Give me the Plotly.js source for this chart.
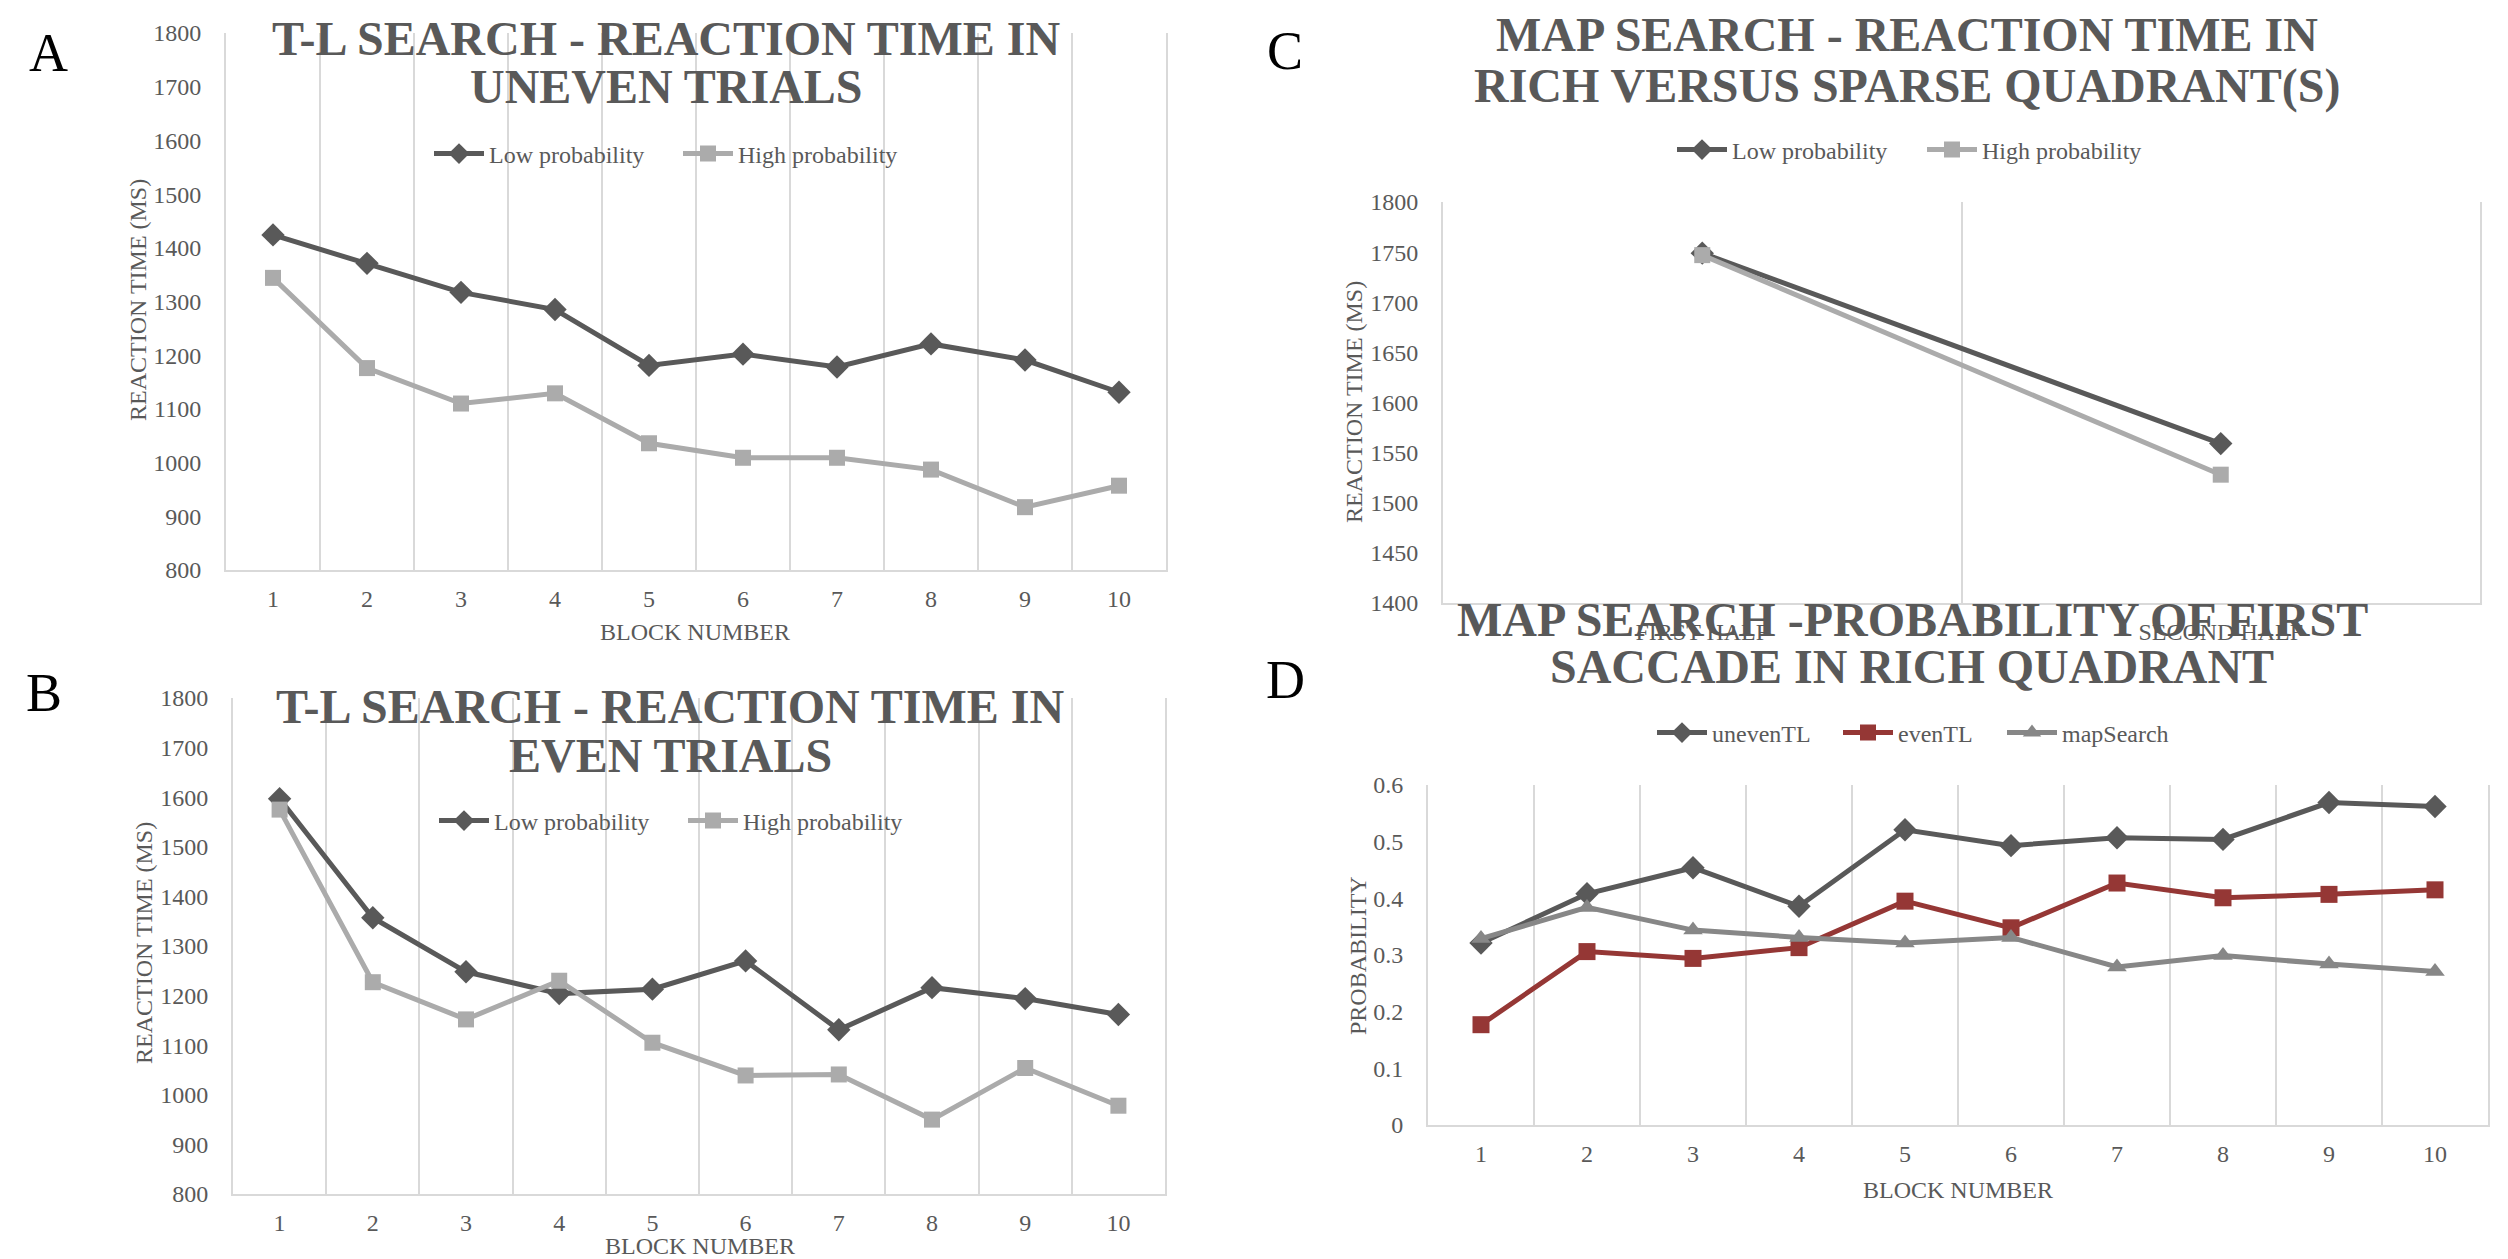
<!DOCTYPE html>
<html>
<head>
<meta charset="utf-8">
<script src="https://cdn.plot.ly/plotly-3.0.1.min.js"></script>
<style>
  html, body { margin: 0; padding: 0; background: #ffffff; }
  #chart { width: 2508px; height: 1259px; }
</style>
</head>
<body>
<div id="chart"></div>
<script>
// ---------------- DATA ----------------
const blocks = ['1', '2', '3', '4', '5', '6', '7', '8', '9', '10'];
const halves = ['FIRST HALF', 'SECOND HALF'];

const unevenLow  = [1424, 1371, 1317, 1285, 1181, 1202, 1178, 1221, 1191, 1131];
const unevenHigh = [1344, 1176, 1110, 1129, 1036, 1009, 1009, 987, 917, 957];

const evenLow  = [1597, 1357, 1248, 1204, 1213, 1270, 1131, 1216, 1194, 1162];
const evenHigh = [1575, 1227, 1152, 1230, 1105, 1039, 1041, 950, 1054, 978];

const mapLow  = [1749, 1559];
const mapHigh = [1747, 1528];

const probUnevenTL  = [0.321, 0.408, 0.454, 0.386, 0.521, 0.493, 0.507, 0.504, 0.569, 0.562];
const probEvenTL    = [0.177, 0.306, 0.294, 0.313, 0.395, 0.348, 0.427, 0.401, 0.407, 0.415];
const probMapSearch = [0.329, 0.384, 0.344, 0.331, 0.321, 0.331, 0.279, 0.299, 0.284, 0.271];

const seriesLow = 'Low probability';
const seriesHigh = 'High probability';
const seriesNames = ['unevenTL', 'evenTL', 'mapSearch'];

// ---------------- STYLE ----------------
const W = 2508, H = 1259;
const px = v => v / W;
const py = v => 1 - v / H;
const FONT = 'Liberation Serif, Times New Roman, serif';
const TXT = '#595959';
const GRID = '#D9D9D9';
const DARK = '#595959';
const LIGHT = '#ABABAB';
const RED = '#953735';
const MID = '#878787';

function line(x, y, name, color, symbol, size, xa, ya, leg) {
  return {
    type: 'scatter', mode: 'lines+markers', x: x, y: y, name: name,
    xaxis: xa, yaxis: ya, legend: leg, showlegend: true,
    line: { color: color, width: 5 },
    marker: { color: color, symbol: symbol, size: size, line: { width: 0 } },
    hoverinfo: 'skip'
  };
}

const traces = [
  line(blocks, unevenLow, seriesLow, DARK, 'diamond', 18, 'x', 'y', 'legend'),
  line(blocks, unevenHigh, seriesHigh, LIGHT, 'square', 16, 'x', 'y', 'legend2'),
  line(blocks, evenLow, seriesLow, DARK, 'diamond', 18, 'x2', 'y2', 'legend3'),
  line(blocks, evenHigh, seriesHigh, LIGHT, 'square', 16, 'x2', 'y2', 'legend4'),
  line(halves, mapLow, seriesLow, DARK, 'diamond', 18, 'x3', 'y3', 'legend5'),
  line(halves, mapHigh, seriesHigh, LIGHT, 'square', 16, 'x3', 'y3', 'legend6'),
  line(blocks, probUnevenTL, seriesNames[0], DARK, 'diamond', 18, 'x4', 'y4', 'legend7'),
  line(blocks, probEvenTL, seriesNames[1], RED, 'square', 17, 'x4', 'y4', 'legend8'),
  line(blocks, probMapSearch, seriesNames[2], MID, 'triangle-up', 17, 'x4', 'y4', 'legend9')
];

function xAxis(dom, yanchor, n) {
  return {
    domain: dom, anchor: yanchor, type: 'category', range: [-0.5, n - 0.5],
    tickson: 'boundaries', showgrid: true, gridcolor: GRID, gridwidth: 2,
    showline: true, linecolor: GRID, linewidth: 2, mirror: false,
    ticks: '', ticklabelstandoff: 6, zeroline: false,
    tickfont: { family: FONT, size: 24, color: TXT }, fixedrange: true
  };
}
function yAxis(dom, xanchor, range, dtick) {
  return {
    domain: dom, anchor: xanchor, range: range, dtick: dtick, tick0: range[0],
    showgrid: false, zeroline: false,
    showline: true, linecolor: GRID, linewidth: 2, mirror: true,
    ticks: '', ticklabelstandoff: 18,
    tickfont: { family: FONT, size: 24, color: TXT }, fixedrange: true
  };
}

function legendAt(xLine, yc) {
  return {
    x: px(xLine - 8), y: py(yc), xanchor: 'left', yanchor: 'middle',
    orientation: 'h', bgcolor: 'rgba(0,0,0,0)', borderwidth: 0,
    itemwidth: 50, font: { family: FONT, size: 24, color: TXT },
    itemclick: false, itemdoubleclick: false
  };
}

function ann(text, xc, yc, size, opts) {
  return Object.assign({
    text: text, xref: 'paper', yref: 'paper', x: px(xc), y: py(yc),
    xanchor: 'center', yanchor: 'middle', showarrow: false,
    font: { family: FONT, size: size, color: TXT }
  }, opts || {});
}
const TITLE = 48;
function title(text, xc, yc) {
  return ann('<b>' + text + '</b>', xc, yc, TITLE);
}
const LETTER = { family: FONT, size: 54, color: '#000000' };

const annotations = [
  // panel letters
  ann('A', 48, 53, 54, { font: LETTER }),
  ann('B', 44, 693, 54, { font: LETTER }),
  ann('C', 1285, 51, 54, { font: LETTER }),
  ann('D', 1285, 680, 54, { font: LETTER }),
  // titles
  title('T-L SEARCH - REACTION TIME IN', 666, 38),
  title('UNEVEN TRIALS', 666, 86),
  title('T-L SEARCH - REACTION TIME IN', 670, 706),
  title('EVEN TRIALS', 670, 755),
  title('MAP SEARCH - REACTION TIME IN', 1907, 35),
  title('RICH VERSUS SPARSE QUADRANT(S)', 1907, 86),
  title('MAP SEARCH -PROBABILITY OF FIRST', 1912, 619),
  title('SACCADE IN RICH QUADRANT', 1912, 666),
  // axis titles
  ann('BLOCK NUMBER', 695, 632, 24),
  ann('REACTION TIME (MS)', 138, 300, 24, { textangle: -90 }),
  ann('BLOCK NUMBER', 700, 1246, 24),
  ann('REACTION TIME (MS)', 144, 943, 24, { textangle: -90 }),
  ann('REACTION TIME (MS)', 1354, 402, 24, { textangle: -90 }),
  ann('BLOCK NUMBER', 1958, 1190, 24),
  ann('PROBABILITY', 1358, 956, 24, { textangle: -90 })
];

const layout = {
  width: W, height: H,
  margin: { l: 0, r: 0, t: 0, b: 0, pad: 0 },
  paper_bgcolor: '#ffffff', plot_bgcolor: 'rgba(0,0,0,0)',
  font: { family: FONT, size: 24, color: TXT },
  showlegend: true,
  xaxis:  xAxis([px(226), px(1166)], 'y', 10),
  yaxis:  yAxis([py(570), py(33)], 'x', [800, 1800], 100),
  xaxis2: xAxis([px(233), px(1165)], 'y2', 10),
  yaxis2: yAxis([py(1194), py(698)], 'x2', [800, 1800], 100),
  xaxis3: xAxis([px(1443), px(2480)], 'y3', 2),
  yaxis3: yAxis([py(603), py(202)], 'x3', [1400, 1800], 50),
  xaxis4: xAxis([px(1428), px(2488)], 'y4', 10),
  yaxis4: yAxis([py(1125), py(785)], 'x4', [0, 0.6], 0.1),
  legend:  legendAt(437, 154),
  legend2: legendAt(686, 154),
  legend3: legendAt(442, 821),
  legend4: legendAt(691, 821),
  legend5: legendAt(1680, 150),
  legend6: legendAt(1930, 150),
  legend7: legendAt(1660, 733),
  legend8: legendAt(1846, 733),
  legend9: legendAt(2010, 733),
  annotations: annotations
};

Plotly.newPlot('chart', traces, layout, { displayModeBar: false, responsive: false });
</script>
</body>
</html>
